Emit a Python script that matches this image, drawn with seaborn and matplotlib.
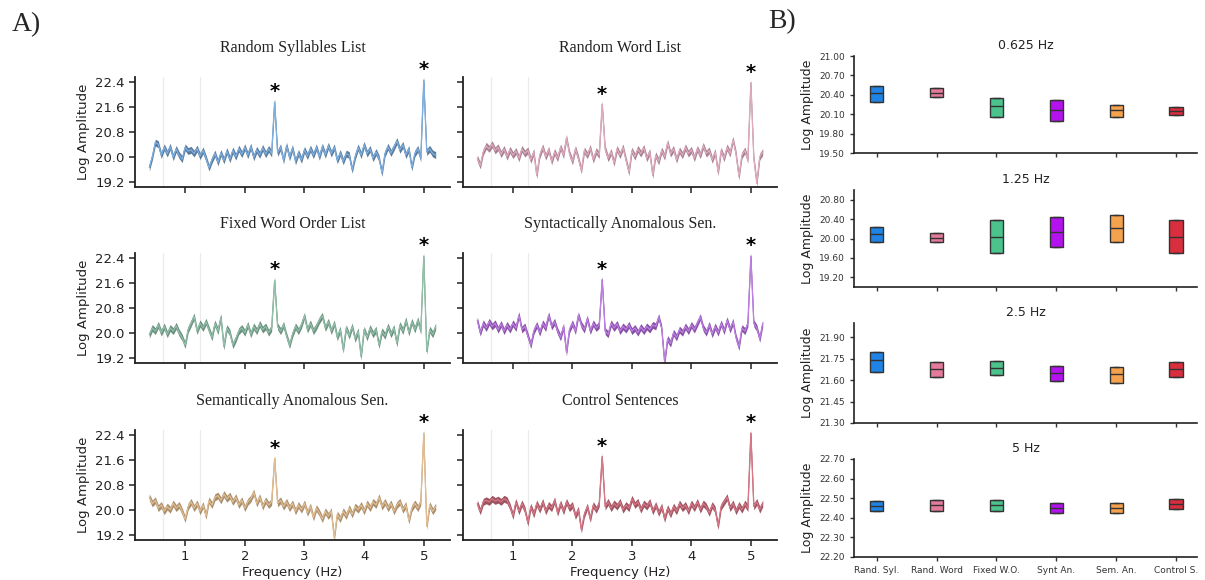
import numpy as np
import pandas as pd
import matplotlib
matplotlib.use("Agg")
import matplotlib.pyplot as plt
import seaborn as sns

sns.set_theme(style="ticks")
plt.rcParams["font.family"] = ["DejaVu Sans"]

# ---------------- Panel A data (spectra) ----------------
freqs = np.round(np.linspace(0.40, 5.20, 97), 3)  # frequency grid (Hz)

titles_a = ["Random Syllables List", "Random Word List",
            "Fixed Word Order List", "Syntactically Anomalous Sen.",
            "Semantically Anomalous Sen.", "Control Sentences"]

rand_syl = [19.65, 20.00, 20.45, 20.40, 20.05, 20.30, 20.10, 20.32, 19.98, 20.25,
            20.05, 19.92, 20.30, 20.18, 20.22, 20.10, 20.26, 20.02, 20.20, 19.95,
            19.65, 19.90, 20.10, 19.82, 20.12, 19.88, 20.18, 19.92, 20.20, 20.00,
            20.26, 20.08, 20.30, 20.05, 20.32, 19.98, 20.22, 20.06, 20.28, 20.08,
            20.25, 20.10, 21.75, 20.12, 20.30, 19.88, 20.35, 19.98, 20.28, 19.85,
            20.12, 19.90, 20.22, 20.02, 20.26, 20.05, 20.30, 20.00, 20.32, 20.06,
            20.35, 20.10, 20.30, 19.88, 20.12, 19.85, 20.10, 20.05, 19.58, 20.00,
            20.30, 20.05, 20.38, 20.10, 20.25, 19.95, 20.15, 19.95, 19.48, 20.10,
            20.32, 20.12, 20.30, 20.50, 20.22, 20.38, 20.05, 20.25, 19.65, 20.10,
            20.25, 19.95, 22.45, 20.15, 20.25, 20.10, 20.05]

rand_word = [19.95, 19.72, 20.15, 20.35, 20.25, 20.40, 20.20, 20.30, 20.08, 20.25,
             20.00, 20.22, 20.05, 20.18, 19.95, 20.25, 20.10, 20.20, 19.90, 20.15,
             19.40, 20.05, 20.30, 20.00, 20.22, 19.85, 20.15, 19.95, 20.30, 20.05,
             20.60, 20.10, 19.85, 20.25, 19.95, 19.56, 20.20, 20.05, 20.28, 19.90,
             20.18, 20.05, 21.68, 20.25, 19.95, 20.15, 19.80, 20.25, 20.05, 20.30,
             19.90, 19.50, 20.20, 20.00, 20.25, 20.10, 20.28, 19.95, 20.15, 19.40,
             20.05, 19.85, 20.20, 20.00, 20.44, 20.10, 20.25, 19.90, 20.20, 20.05,
             20.30, 20.10, 20.22, 19.95, 20.25, 20.05, 20.35, 20.10, 20.20, 19.90,
             20.15, 19.50, 20.20, 19.95, 20.30, 20.10, 20.54, 20.10, 19.36, 20.05,
             20.20, 19.90, 22.37, 19.95, 19.15, 20.00, 20.15]

fixed_wo = [19.93, 20.15, 20.05, 20.25, 20.00, 20.20, 19.95, 20.15, 20.05, 20.22,
            20.00, 19.85, 19.60, 20.10, 20.30, 20.52, 20.05, 20.30, 20.15, 20.35,
            20.10, 19.85, 20.30, 20.05, 20.50, 19.55, 20.15, 20.00, 19.60, 19.80,
            20.05, 20.15, 20.00, 20.25, 19.95, 20.20, 20.05, 20.28, 20.10, 20.20,
            20.00, 20.15, 21.68, 20.20, 20.05, 20.25, 19.90, 19.60, 19.95, 20.20,
            20.05, 20.25, 20.54, 20.10, 20.30, 20.05, 20.20, 20.40, 20.54, 20.15,
            20.35, 20.05, 20.30, 19.85, 20.10, 19.45, 20.15, 19.90, 20.20, 19.80,
            20.05, 19.23, 20.10, 19.85, 20.15, 19.95, 20.10, 19.60, 20.05, 19.90,
            20.20, 19.95, 20.15, 19.65, 20.25, 20.05, 20.40, 20.00, 20.35, 20.10,
            20.40, 20.05, 22.45, 19.40, 20.10, 19.95, 20.20]

synt_an = [20.40, 20.00, 20.30, 20.15, 20.35, 20.20, 20.30, 20.10, 20.28, 20.05,
           20.25, 20.10, 20.30, 20.15, 20.56, 20.10, 20.20, 19.90, 19.60, 20.05,
           20.25, 20.00, 20.30, 20.15, 20.56, 20.20, 20.35, 20.05, 19.85, 20.20,
           19.37, 20.10, 20.30, 20.05, 20.56, 20.25, 20.10, 20.45, 20.05, 20.30,
           20.15, 20.25, 21.70, 20.05, 19.95, 20.30, 20.15, 20.28, 20.05, 20.20,
           20.10, 20.25, 20.05, 20.15, 20.00, 20.18, 20.05, 20.20, 20.10, 20.25,
           20.20, 20.50, 20.15, 19.05, 19.80, 19.65, 20.00, 19.85, 20.10, 20.00,
           20.20, 20.05, 20.25, 20.10, 20.30, 20.50, 20.15, 20.00, 20.25, 19.95,
           20.20, 20.00, 20.30, 20.05, 20.40, 20.10, 20.35, 19.85, 19.54, 20.15,
           20.05, 20.30, 22.45, 20.30, 20.15, 19.80, 20.30]

sem_an = [20.40, 20.20, 20.30, 20.05, 20.15, 19.95, 20.10, 20.00, 20.20, 20.05,
          20.15, 19.95, 19.70, 20.10, 20.25, 20.05, 20.20, 19.95, 20.15, 19.80,
          20.30, 20.15, 20.40, 20.45, 20.30, 20.50, 20.35, 20.45, 20.25, 20.40,
          20.15, 20.30, 20.05, 20.25, 20.35, 20.55, 20.20, 20.40, 20.10, 20.30,
          20.15, 20.25, 21.64, 20.20, 20.30, 20.10, 20.25, 20.05, 20.20, 19.95,
          20.15, 20.00, 20.20, 19.90, 20.10, 19.75, 20.05, 19.90, 19.70, 19.95,
          19.80, 19.95, 19.10, 19.85, 19.70, 19.95, 19.80, 20.05, 19.85, 20.10,
          20.00, 20.15, 19.95, 20.20, 20.05, 20.25, 20.15, 20.40, 20.10, 20.25,
          20.05, 20.20, 19.95, 20.15, 20.25, 20.00, 20.15, 19.65, 20.05, 20.20,
          20.05, 20.25, 22.45, 19.47, 20.15, 19.95, 20.10]

control = [20.20, 19.95, 20.25, 20.30, 20.25, 20.35, 20.28, 20.32, 20.25, 20.35,
           20.30, 20.10, 19.80, 20.25, 19.95, 20.20, 20.00, 19.58, 20.10, 19.85,
           20.20, 20.00, 20.25, 19.95, 20.15, 20.05, 20.30, 19.90, 20.20, 19.95,
           20.25, 20.05, 20.15, 19.80, 20.00, 19.36, 19.85, 20.10, 19.70, 20.15,
           20.00, 20.20, 21.70, 20.10, 20.25, 20.05, 20.20, 20.10, 20.25, 20.00,
           20.15, 20.05, 20.35, 20.15, 20.25, 20.00, 20.20, 20.10, 20.25, 19.95,
           20.15, 19.90, 20.10, 19.70, 20.05, 19.85, 20.10, 19.95, 20.20, 20.05,
           20.15, 19.95, 20.20, 20.05, 20.25, 20.00, 20.20, 20.10, 19.90, 20.15,
           20.00, 19.47, 20.10, 20.25, 20.40, 20.05, 20.20, 19.95, 20.15, 20.00,
           20.20, 20.05, 22.45, 20.10, 20.25, 20.00, 20.20]

series_a = [rand_syl, rand_word, fixed_wo, synt_an, sem_an, control]
line_colors = ["#7fb0e0", "#e0aac0", "#92c0aa", "#bf80e4", "#e2bf92", "#d87888"]
band_colors = ["#4a6d92", "#9c7383", "#5c8472", "#7a3e9a", "#a0825e", "#924250"]
band_half = 0.11  # half-width of the shaded variability band (log units)
marked_freqs = [2.5, 5.0]
yticks_a = [19.2, 20.0, 20.8, 21.6, 22.4]
xticks_a = [1, 2, 3, 4, 5]

# ---------------- Panel B data (box summaries) ----------------
conditions = ["Rand. Syl.", "Rand. Word", "Fixed W.O.", "Synt An.", "Sem. An.", "Control S."]
box_colors = ["#1f84e6", "#e47a9c", "#4cc28c", "#b512f0", "#f4a24e", "#d92e3e"]
freq_titles = ["0.625 Hz", "1.25 Hz", "2.5 Hz", "5 Hz"]

q1_0625 = [20.29, 20.36, 20.06, 20.00, 20.06, 20.09]
med_0625 = [20.43, 20.43, 20.22, 20.165, 20.165, 20.155]
q3_0625 = [20.53, 20.50, 20.345, 20.32, 20.24, 20.21]

q1_125 = [19.92, 19.93, 19.70, 19.83, 19.93, 19.70]
med_125 = [20.085, 20.02, 20.04, 20.14, 20.21, 20.04]
q3_125 = [20.23, 20.11, 20.39, 20.44, 20.48, 20.39]

q1_25 = [21.66, 21.625, 21.636, 21.594, 21.578, 21.62]
med_25 = [21.738, 21.677, 21.688, 21.648, 21.64, 21.677]
q3_25 = [21.80, 21.73, 21.735, 21.70, 21.695, 21.724]

q1_5 = [22.435, 22.436, 22.435, 22.426, 22.426, 22.445]
med_5 = [22.46, 22.464, 22.464, 22.45, 22.45, 22.47]
q3_5 = [22.488, 22.49, 22.49, 22.478, 22.478, 22.496]

box_stats = [(q1_0625, med_0625, q3_0625), (q1_125, med_125, q3_125),
             (q1_25, med_25, q3_25), (q1_5, med_5, q3_5)]
ylims_b = [(19.5, 21.0), (19.0, 21.0), (21.3, 22.0), (22.2, 22.7)]
yticks_b = [[19.5, 19.8, 20.1, 20.4, 20.7, 21.0],
            [19.2, 19.6, 20.0, 20.4, 20.8],
            [21.3, 21.45, 21.6, 21.75, 21.9],
            [22.2, 22.3, 22.4, 22.5, 22.6, 22.7]]

# ---------------- Figure ----------------
W, H = 1205, 580
fig = plt.figure(figsize=(W / 100, H / 100), dpi=100)


def add_ax(x0, y0, x1, y1):
    return fig.add_axes([x0 / W, 1 - y1 / H, (x1 - x0) / W, (y1 - y0) / H])


cols_a = [(135, 450), (463, 777)]
rows_a = [(77, 187), (253, 363), (430, 540)]
serif = ["Liberation Serif", "DejaVu Serif"]

for i, (vals, title) in enumerate(zip(series_a, titles_a)):
    r, c = divmod(i, 2)
    ax = add_ax(cols_a[c][0], rows_a[r][0], cols_a[c][1], rows_a[r][1])
    v = np.array(vals)
    for xf in [0.625, 1.25]:
        ax.axvline(xf, color="#ebebeb", lw=0.9, zorder=0)
    # long-form: lower and upper bound per frequency -> min/max band
    band_df = pd.DataFrame({
        "freq": np.concatenate([freqs, freqs]),
        "amp": np.concatenate([v - band_half, v + band_half]),
    })
    sns.lineplot(data=band_df, x="freq", y="amp", ax=ax, color=band_colors[i],
                 lw=0.6, estimator="mean", errorbar=("pi", 100),
                 err_kws={"alpha": 0.9, "lw": 0}, zorder=1)
    sns.lineplot(x=freqs, y=v, ax=ax, color=line_colors[i], lw=0.9, zorder=2)
    for mf in marked_freqs:
        k = int(np.argmin(np.abs(freqs - mf)))
        ax.text(mf, v[k] + 0.15, "*", ha="center", va="baseline", fontsize=14,
                fontweight="bold", color="black", clip_on=False)
    ax.set_xlim(0.16, 5.44)
    ax.set_ylim(19.03, 22.55)
    ax.set_yticks(yticks_a)
    ax.set_xticks(xticks_a)
    ax.set_title(title, family=serif, fontsize=11.5, pad=18, color="#222222")
    ax.tick_params(labelsize=9.5, length=4, width=1.1, colors="#222222")
    for s in ["left", "bottom"]:
        ax.spines[s].set_linewidth(1.3)
        ax.spines[s].set_color("#222222")
    sns.despine(ax=ax)
    if c == 0:
        ax.set_ylabel("Log Amplitude", fontsize=9.5, color="#222222")
    else:
        ax.set_ylabel("")
        ax.tick_params(labelleft=False)
    if r == 2:
        ax.set_xlabel("Frequency (Hz)", fontsize=9.5, color="#222222", labelpad=2)
    else:
        ax.set_xlabel("")
        ax.tick_params(labelbottom=False)

rows_b = [(56, 153), (190, 287), (323, 423), (459, 557)]
for j, (stats, ttl) in enumerate(zip(box_stats, freq_titles)):
    ax = add_ax(854, rows_b[j][0], 1197, rows_b[j][1])
    q1, med, q3 = stats
    recs = []
    for k, cond in enumerate(conditions):
        for val in [q1[k], q1[k], med[k], q3[k], q3[k]]:
            recs.append({"cond": cond, "val": val})
    df = pd.DataFrame(recs)
    sns.boxplot(data=df, x="cond", y="val", hue="cond", order=conditions,
                hue_order=conditions, palette=box_colors, saturation=1,
                width=0.22, linecolor="#333333", linewidth=1.0,
                showfliers=False, legend=False, ax=ax)
    ax.set_xlim(-0.38, 5.35)
    ax.set_ylim(*ylims_b[j])
    ax.set_yticks(yticks_b[j])
    ax.set_yticklabels([f"{t:.2f}" for t in yticks_b[j]])
    ax.set_title(ttl, fontsize=9, pad=5, color="#222222")
    ax.set_ylabel("Log Amplitude", fontsize=9, color="#222222")
    ax.tick_params(labelsize=6.5, length=3, width=1, colors="#333333")
    for s in ["left", "bottom"]:
        ax.spines[s].set_linewidth(1.2)
        ax.spines[s].set_color("#222222")
    sns.despine(ax=ax)
    ax.set_xlabel("")
    if j != 3:
        ax.tick_params(labelbottom=False)

fig.text(12 / W, 1 - 25 / H, "A)", family=serif, fontsize=20, va="center", ha="left")
fig.text(768 / W, 1 - 22 / H, "B)", family=serif, fontsize=20, va="center", ha="left")

fig.savefig("out.png", dpi=100, facecolor="white")
